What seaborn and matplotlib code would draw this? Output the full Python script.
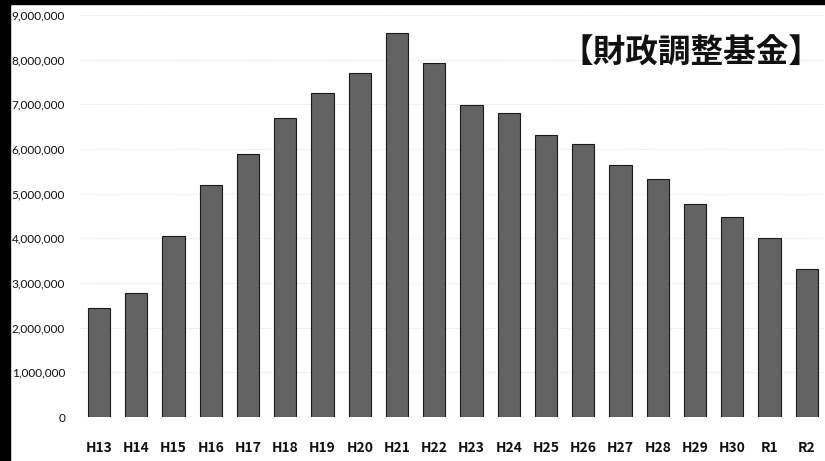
import seaborn as sns
import matplotlib.pyplot as plt
import matplotlib.patches as mpatches
import pandas as pd

years = ['H13', 'H14', 'H15', 'H16', 'H17', 'H18', 'H19', 'H20', 'H21', 'H22',
         'H23', 'H24', 'H25', 'H26', 'H27', 'H28', 'H29', 'H30', 'R1', 'R2']
balance = [2450000, 2780000, 4050000, 5190000, 5890000, 6700000, 7250000, 7710000,
           8590000, 7920000, 6980000, 6800000, 6310000, 6110000, 5640000, 5320000,
           4770000, 4480000, 4000000, 3310000]
yticks = [0, 1000000, 2000000, 3000000, 4000000, 5000000, 6000000, 7000000, 8000000, 9000000]
title = '【財政調整基金】'

sns.set_style('white')
plt.rcParams['font.family'] = ['Noto Sans CJK JP', 'DejaVu Sans']

df = pd.DataFrame({'year': years, 'balance': balance})

fig = plt.figure(figsize=(8.25, 4.61), dpi=100)
ax = fig.add_axes([0.0975, 0.0954, 0.903, 0.872])

sns.barplot(data=df, x='year', y='balance', color='#636363', saturation=1,
            width=0.6, edgecolor='#1a1a1a', linewidth=0.8, ax=ax)

ax.set_ylim(0, 9000000)
ax.set_xlim(-0.5, 19.5)
ax.set_yticks(yticks)
ax.set_yticklabels([f'{v:,}' for v in yticks], fontsize=8.5, family='Lato', color='#111111')
ax.tick_params(axis='y', length=0, pad=11)
ax.tick_params(axis='x', length=0, pad=17)
for lab in ax.get_xticklabels():
    lab.set_fontweight('bold')
    lab.set_fontsize(10)
    lab.set_color('#111111')
ax.yaxis.grid(True, color='#dddddd', linestyle=':', linewidth=0.7)
ax.set_axisbelow(True)
for s in ax.spines.values():
    s.set_visible(False)
ax.set_xlabel('')
ax.set_ylabel('')

ax.text(0.82, 0.905, title, transform=ax.transAxes, ha='center', va='center',
        fontsize=23.5, fontweight='bold', color='#111111',
        family=['Noto Sans CJK JP', 'DejaVu Sans'])

# scan border
fig.patches.append(mpatches.Rectangle((0, 0), 0.012, 1, transform=fig.transFigure,
                                      color='black', zorder=10))
fig.patches.append(mpatches.Rectangle((0, 0.991), 1, 0.009, transform=fig.transFigure,
                                      color='black', zorder=10))

plt.savefig('out.png', dpi=100)
plt.close()
